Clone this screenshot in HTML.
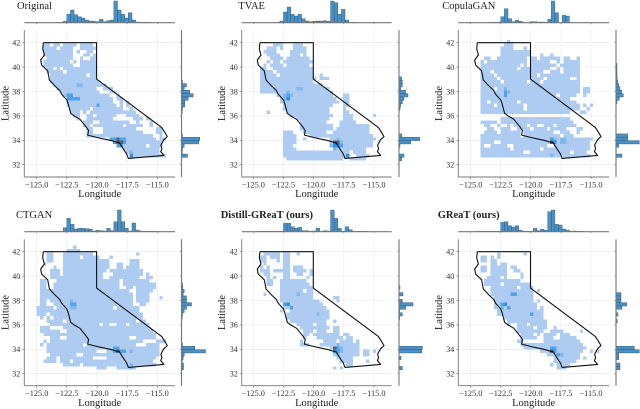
<!DOCTYPE html>
<html>
<head>
<meta charset="utf-8">
<title>California latitude and longitude density by model</title>
<style>
html,body{margin:0;padding:0;background:#fff;width:640px;height:409px;overflow:hidden}
svg{display:block;filter:blur(0.3px)}
text{font-family:"Liberation Serif",serif}
</style>
</head>
<body>
<svg id="chart" width="640" height="409" viewBox="0 0 640 409" xmlns="http://www.w3.org/2000/svg"></svg>
<script>
/* Chart values */
const lonTicks = [-125, -122.5, -120, -117.5, -115];
const lonTickLabels = ["\u2212125.0", "\u2212122.5", "\u2212120.0", "\u2212117.5", "\u2212115.0"];
const latTicks = [42, 40, 38, 36, 34, 32];
const latTickLabels = ["42", "40", "38", "36", "34", "32"];
const panelTitles = ["Original", "TVAE", "CopulaGAN", "CTGAN", "Distill-GReaT (ours)", "GReaT (ours)"];
const boundaryLon = [-124.45,-120.03,-120.03,-114.64,-114.4,-114.17,-114.45,-114.7,-114.62,-114.72,-114.45,-117.4,-117.55,-117.73,-118.15,-118.4,-118.78,-119.4,-120.03,-120.77,-120.7,-120.91,-121.41,-121.9,-122.18,-122.38,-122.5,-122.93,-123.1,-123.48,-123.95,-124.09,-124.59,-124.67,-124.36,-124.5,-124.45];
const boundaryLat = [42,42,39.02,35.06,34.7,34.3,34.05,33.61,33.3,33.07,32.76,32.52,32.9,33.15,33.8,33.85,33.97,34.1,34.24,34.43,34.8,35.11,35.72,36,36.21,36.97,37.3,37.77,38.1,38.45,38.94,39.7,40.17,40.58,40.99,41.5,42];

/* Heat rows: each row lists start,end grid columns of filled cells */
const originalRows = [[],[],[2,4,5,7,8,12,13,17],[2,6,7,11,13,18],[2,11,12,13,15,17],[2,11,14,16,17,18],[3,11,13,14,16,18],[2,10,11,12,13,18],[2,11,13,18],[3,5,6,7,8,18],[3,8,9,18],[4,15,16,18],[4,18],[4,19],[5,21],[6,18,20,23],[7,19,22,24],[8,22,24,25],[9,23,24,26],[9,23,25,26,27,28],[9,24,25,26,27,28],[10,16,17,26,28,29],[10,13,14,15,16,30],[11,13,15,17,18,24,27,31],[12,13,15,23,29,32,33,34],[14,17,19,28,30,31,34,35],[14,16,17,26,27,32,34,35],[15,17,20,30,36,38],[15,17,20,32,36,38],[15,35,37,38],[22,36,37,39],[23,38],[24,33,34,38],[26,37],[27,37],[28,39]];
const originalHot = [[9,17,3],[10,17,3],[9,18,3],[10,18,3],[11,18,3],[12,18,3],[18,20,3],[12,14,2],[13,14,2],[22,30,3],[23,30,3],[24,30,5],[25,30,3],[26,30,3],[23,31,3],[24,31,5],[25,31,5],[26,31,3],[24,32,3],[25,32,3],[28,35,4],[28,34,2]];
const originalTop = [0,0,0,0,1,1,4,25,38,24,18,14,8,5,4,3,10,3,6,8,65,38,25,14,30,8,2,1,1,1,0,0,0,0];
const originalRight = [0,1,1,1,1,1,1,1,1,1,1,1,1,3,15,8,25,35,20,10,10,3,2,1,1,1,1,1,1,3,55,52,8,3,2,18,1];

const tvaeRows = [[],[],[6,9,12,15],[4,7,8,9,12,16],[3,7,11,16],[4,8,11,14,15,16],[5,9,10,17],[4,5,6,8,9,18],[3,4,5,9,10,17],[2,4,6,18],[2,6,7,18],[2,7,8,18,20,21],[2,19,20,23],[2,18],[2,21],[2,23],[2,24],[7,24,27,29],[8,25,27,29],[8,26,27,29],[9,24,27,29],[9,23,27,28],[4,5,10,23,27,29],[11,24,27,30,36,37],[13,23,27,30],[14,22,26,31],[14,24,26,35],[14,24,25,35],[9,12,15,22,24,35],[9,13,17,36],[9,13,15,16,23,37],[9,13,23,36],[9,12,23,36],[9,13,25,34],[9,29,30,34],[9,29,31,35],[10,27,29,34]];
const tvaeHot = [[13,15,2],[14,15,2],[10,17,3],[10,18,4],[9,17,2],[11,17,2],[10,16,2],[9,18,2],[24,31,5],[25,31,5],[24,32,4],[25,32,4],[26,31,2],[26,32,3],[23,32,2],[24,33,2],[25,30,2],[28,35,4]];
const tvaeTop = [0,0,0,0,0,1,5,32,47,25,20,25,12,5,3,4,5,5,6,4,65,60,25,40,8,1,1,0,0,0,0,0,0,0];
const tvaeRight = [0,0,0,0,0,0,0,0,0,0,0,0,8,10,10,5,20,27,15,10,5,3,1,0,0,0,0,0,0,8,62,35,3,1,1,15,8];

const copulaRows = [[],[11,12],[10,13],[9,13,16,17],[9,18],[9,18,21,22,24,25],[4,6,8,17,18,20,21,27,28,30,32,33],[3,4,5,17,18,24,26,27,28,33],[3,15,16,17,18,26,27,33],[3,14,15,24,26,27,28,33],[3,6,7,22,24,27,28,33],[3,7,8,20,21,33],[3,8,9,22,23,30,32,33],[3,9,10,17,18,21,22,33],[3,33],[3,7,8,33,34,36],[3,33,34,36],[3,26,27,32,34,35],[3,30],[3,5,6,14,15,32],[3,7,8,16,17,33,34,35,36,37],[3,16,17,33,35,36],[3,30,33,35],[],[9,30],[3,8,9,31],[4,6,8,9,11,12,13,17,18,20,22,25,26,32],[5,7,9,12,14,18,19,23,24,29,32,34],[4,8,9,15,16,25,27,30,32,33],[3,15,16,27,28,31],[3,37],[3,7,9,36],[3,4,6,11,13,23,25,36],[3,12,13,21,22,36],[3,16,18,30,31,35],[3,36]];
const copulaHot = [[10,15,2],[10,16,3],[11,16,2],[10,17,3],[24,30,3],[25,30,2],[24,31,5],[25,31,4],[27,30,2],[28,30,2],[27,31,2],[28,31,2],[24,35,2]];
const copulaTop = [0,0,0,0,1,1,2,18,42,12,3,7,4,1,0,3,3,2,2,1,10,65,30,0,22,20,1,0,0,0,0,0,0,0];
const copulaRight = [0,0,0,0,0,0,0,0,3,3,3,3,4,5,8,12,17,22,10,3,1,0,0,0,0,0,0,0,0,35,35,70,8,1,1,18,1];

const ctganRows = [[11,12],[9,13],[3,5,8,17,30,31],[3,5,8,13,14,19,22,23],[3,5,8,22,28,31],[2,3,8,22,24,26,28,31],[5,6,8,22,24,26,27,31],[4,7,8,21,22,32],[4,7,8,20,23,32,33,34],[4,20,22,31,33,35],[1,3,6,25,26,34],[1,3,5,25,26,36],[1,3,5,25,27,29,30,36],[1,28,30,35],[1,29,30,34],[1,29,30,34,37,38],[1,3,4,29,30,34],[1,3,5,29,31,33],[0,5,6,23,24,31],[0,31],[0,3,4,32],[1,2,3,4,5,32],[3,8,9,30,31,33],[4,19,20,22,24,27,28,34],[1,4,8,34],[1,7,9,35],[2,36],[4,7,9,28,30,36],[2,3,4,32,36,39],[1,2,3,14,15,30,33,37],[3,37],[3,18,21,37],[4,12,14,37],[3,6,7,17,21,36],[2,6,7,10,11,35],[8,13,14,36],[18,21,24,30]];
const ctganHot = [[10,17,3],[11,17,3],[10,18,2],[11,18,2],[10,16,2],[23,30,3],[24,30,3],[23,31,3],[24,31,5],[25,31,3],[26,31,3],[28,31,2],[28,35,2],[28,36,2]];
const ctganTop = [1,1,1,1,1,1,12,40,22,8,10,10,9,8,2,4,3,2,10,3,30,65,30,10,2,26,5,2,1,1,1,1,0,0];
const ctganRight = [1,1,1,1,1,1,1,1,1,1,1,3,4,8,5,15,15,30,15,8,3,2,1,1,1,1,1,1,1,3,40,72,8,5,2,6,6];

const distillRows = [[],[],[3,8,9,11,13,14],[2,4,5,8,9,11],[2,4,7,8,9,11],[3,4,9,11],[2,3,4,5,9,11,12,15],[2,5,6,11,12,16,17,18],[3,5,9,11,13,15,17,18],[4,5,6,7,9,11,16,17],[4,6,8,16],[4,6,8,17],[8,18],[8,15,16,18],[3,4,8,18],[8,18,24,26],[8,20,25,26],[9,21],[9,22],[8,9,11,23],[10,23],[10,23],[11,22,24,25],[13,18,19,22],[14,23,24,26],[15,18,19,22,24,26],[15,17,18,26,27,29],[15,16,19,27,28,30],[14,15,21,25,26,30,31,32],[14,17,20,32],[23,32],[24,32,33,35,36,37],[24,32,33,35],[25,30],[26,30,34,35],[28,30],[24,25,26,27]];
const distillHot = [[9,17,3],[10,17,4],[11,18,3],[13,14,2],[19,20,2],[24,30,5],[25,30,3],[24,31,4],[25,31,3],[26,31,2],[26,30,2],[25,29,2],[25,32,2]];
const distillTop = [1,1,1,1,1,1,1,25,25,15,10,13,3,3,1,2,10,1,3,2,65,40,10,1,15,6,1,1,1,1,0,0,0,0];
const distillRight = [1,1,1,1,1,1,1,1,1,1,1,1,3,1,12,1,10,42,20,2,10,2,1,0,0,0,1,1,1,1,70,68,1,6,0,0,10];

const greatRows = [[],[],[8,9,16,17],[3,5,6,7,8,9],[3,5,6,8],[6,8,9,11],[3,5,6,11,12,14],[3,5,6,11,13,15],[6,11,15,16],[5,9,10,11,15,16],[4,15],[4,9,10,18],[6,14,15,19],[6,19,20,21],[6,19],[7,19],[7,19,20,21],[7,20],[7,20,21,22],[8,22],[8,22],[10,22],[11,23],[11,12,14,17,18,23],[14,19,20,23,25,26],[14,22,24,28,33,34],[15,19,20,21,22,26,27,30],[15,20,22,25,27,32],[14,16,22,33],[15,34],[16,35],[21,34,36,37,38,39],[23,33],[25,33,34,35],[25,32],[24,25,26,30],[26,29]];
const greatHot = [[9,17,3],[10,17,4],[9,18,2],[11,18,3],[12,14,3],[13,14,3],[18,20,3],[24,30,3],[24,31,5],[25,31,3],[25,30,3],[26,32,3],[27,32,2]];
const greatTop = [1,1,1,1,1,1,1,28,30,18,14,18,4,1,1,1,10,3,7,4,60,65,22,20,8,5,1,2,1,1,0,0,0,0];
const greatRight = [0,0,0,0,1,1,1,1,1,1,1,1,1,1,15,15,15,32,18,1,6,1,4,1,1,1,1,1,1,1,55,70,8,8,1,12,12];

const panelRows = [originalRows, tvaeRows, copulaRows, ctganRows, distillRows, greatRows];
const panelHot = [originalHot, tvaeHot, copulaHot, ctganHot, distillHot, greatHot];
const panelTop = [originalTop, tvaeTop, copulaTop, ctganTop, distillTop, greatTop];
const panelRight = [originalRight, tvaeRight, copulaRight, ctganRight, distillRight, greatRight];

/* Layout and styling */
const frames = [
  {left:24.3, right:175, lon0:36.7, lon1:157.3, marg:181.5, top:30, bottom:177, lat42:42.7, lat32:164.7, base:22.7, titleX:17, titleY:9, labelX:8.5, tickY:187.5, xLabelY:197, bold:false},
  {left:241.7, right:391.7, lon0:253.3, lon1:374, marg:399, top:30, bottom:177, lat42:42.7, lat32:164.7, base:22.7, titleX:238.3, titleY:9, labelX:225, tickY:187.5, xLabelY:197, bold:false},
  {left:458.3, right:609, lon0:470.7, lon1:591, marg:616, top:30, bottom:177, lat42:42.7, lat32:164.7, base:22.7, titleX:442.3, titleY:9, labelX:442, tickY:187.5, xLabelY:197, bold:false},
  {left:24.3, right:175, lon0:36.7, lon1:157.3, marg:181.5, top:239.3, bottom:385.7, lat42:251.7, lat32:373.7, base:231.7, titleX:16, titleY:218, labelX:8.5, tickY:396, xLabelY:406, bold:false},
  {left:241.7, right:391.7, lon0:253.3, lon1:374, marg:399, top:239.3, bottom:385.7, lat42:251.7, lat32:373.7, base:231.7, titleX:220.7, titleY:218, labelX:225, tickY:396, xLabelY:406, bold:true},
  {left:458.3, right:609, lon0:470.7, lon1:591, marg:616, top:239.3, bottom:385.7, lat42:251.7, lat32:373.7, base:231.7, titleX:437.7, titleY:218, labelX:442, tickY:396, xLabelY:406, bold:true}
];
const levelColors = {1:"#aecbf2", 2:"#82b8ee", 3:"#4fa3ea", 4:"#2f90e2", 5:"#55606c"};
const cellDeg = 0.275;
const binDeg = 0.3;
const binStart = -124.6;
const rowTopLat = 42.5;
const histPxPerUnit = 1 / 3;
const slug = ["original", "tvae", "copulagan", "ctgan", "distill-great", "great"];

const svg = document.getElementById("chart");
const NS = "http://www.w3.org/2000/svg";

function make(tag, attrs, parent) {
  const el = document.createElementNS(NS, tag);
  for (const k in attrs) el.setAttribute(k, attrs[k]);
  parent.appendChild(el);
  return el;
}

function drawPanel(p) {
  const f = frames[p];
  const name = slug[p];
  const x = lon => f.lon0 + (lon + 125) * (f.lon1 - f.lon0) / 10;
  const y = lat => f.lat42 + (42 - lat) * (f.lat32 - f.lat42) / 10;
  const cellW = x(-125 + cellDeg) - x(-125);
  const cellH = y(42 - cellDeg) - y(42);

  const g = make("g", {}, svg);
  
  

  lonTicks.forEach(function (t) {
    const line = make("line", {x1:x(t), x2:x(t), y1:f.top, y2:f.bottom, stroke:"#d4d4d4", "stroke-width":0.6, "stroke-dasharray":"1 1"}, g);
    
    
  });
  latTicks.forEach(function (t) {
    const line = make("line", {x1:f.left, x2:f.right, y1:y(t), y2:y(t), stroke:"#d4d4d4", "stroke-width":0.6, "stroke-dasharray":"1 1"}, g);
    
    
  });

  panelRows[p].forEach(function (spans, r) {
    for (let s = 0; s < spans.length; s += 2) {
      for (let c = spans[s]; c < spans[s + 1]; c++) {
        const cell = make("rect", {x:x(-125 + c * cellDeg), y:y(rowTopLat - r * cellDeg), width:cellW, height:cellH, fill:levelColors[1], "shape-rendering":"crispEdges"}, g);
        
        
      }
    }
  });
  panelHot[p].forEach(function (h) {
    const cell = make("rect", {x:x(-125 + h[0] * cellDeg), y:y(rowTopLat - h[1] * cellDeg), width:cellW, height:cellH, fill:levelColors[h[2]], "shape-rendering":"crispEdges"}, g);
    
    
  });

  const pts = boundaryLon.map(function (lon, i) { return x(lon).toFixed(1) + "," + y(boundaryLat[i]).toFixed(1); }).join(" ");
  const outline = make("polyline", {points:pts, fill:"none", stroke:"#111", "stroke-width":1.1, "stroke-linejoin":"round"}, g);
  
  

  const axisAttrs = {stroke:"#777", "stroke-width":0.9};
  const leftSpine = make("line", Object.assign({x1:f.left, x2:f.left, y1:f.top, y2:f.bottom}, axisAttrs), g);
  
  
  const bottomSpine = make("line", Object.assign({x1:f.left, x2:f.right, y1:f.bottom, y2:f.bottom}, axisAttrs), g);
  
  

  lonTicks.forEach(function (t, i) {
    const tick = make("line", {x1:x(t), x2:x(t), y1:f.bottom, y2:f.bottom + 2, stroke:"#666", "stroke-width":0.6}, g);
    
    
    const mt = make("line", {x1:x(t), x2:x(t), y1:f.base, y2:f.base + 1.6, stroke:"#666", "stroke-width":0.6}, g);
    
    
    const lab = make("text", {x:x(t), y:f.tickY, "text-anchor":"middle", "font-size":8.3, fill:"#333"}, g);
    
    
    lab.textContent = lonTickLabels[i];
  });
  latTicks.forEach(function (t, i) {
    const tick = make("line", {x1:f.left - 2, x2:f.left, y1:y(t), y2:y(t), stroke:"#666", "stroke-width":0.6}, g);
    
    
    const mt = make("line", {x1:f.marg - 1.6, x2:f.marg, y1:y(t), y2:y(t), stroke:"#666", "stroke-width":0.6}, g);
    
    
    const lab = make("text", {x:f.left - 4, y:y(t) + 2.8, "text-anchor":"end", "font-size":8, fill:"#333"}, g);
    
    
    lab.textContent = latTickLabels[i];
  });

  const xTitle = make("text", {x:(f.left + f.right) / 2, y:f.xLabelY, "text-anchor":"middle", "font-size":10.5, fill:"#222"}, g);
  
  
  xTitle.textContent = "Longitude";

  const cy = (f.top + f.bottom) / 2;
  const yTitle = make("text", {x:f.labelX, y:cy, "text-anchor":"middle", "font-size":10.5, fill:"#222", transform:"rotate(-90 " + f.labelX + " " + cy + ")"}, g);
  
  
  yTitle.textContent = "Latitude";

  const title = make("text", {x:f.titleX, y:f.titleY, "font-size":10.5, fill:"#222", "font-weight":f.bold ? "bold" : "normal"}, g);
  
  
  title.textContent = panelTitles[p];

  panelTop[p].forEach(function (v, i) {
    if (!v) return;
    const x0 = x(binStart + i * binDeg);
    const bar = make("rect", {x:x0, y:f.base - v * histPxPerUnit, width:x(binStart + (i + 1) * binDeg) - x0, height:v * histPxPerUnit, fill:"#4a90c4", stroke:"#2d4f6b", "stroke-width":0.4}, g);
    
    
  });
  panelRight[p].forEach(function (v, r) {
    if (!v) return;
    const bar = make("rect", {x:f.marg, y:y(rowTopLat - r * cellDeg), width:v * histPxPerUnit, height:cellH, fill:"#4a90c4", stroke:"#2d4f6b", "stroke-width":0.4}, g);
    
    
  });

  const topBase = make("line", {x1:f.left, x2:f.right, y1:f.base, y2:f.base, stroke:"#777", "stroke-width":1.1}, g);
  
  
  const rightBase = make("line", {x1:f.marg, x2:f.marg, y1:f.top, y2:f.bottom, stroke:"#777", "stroke-width":1.1}, g);
  
  
}

panelTitles.forEach(function (_, p) { drawPanel(p); });
</script>
</body>
</html>
